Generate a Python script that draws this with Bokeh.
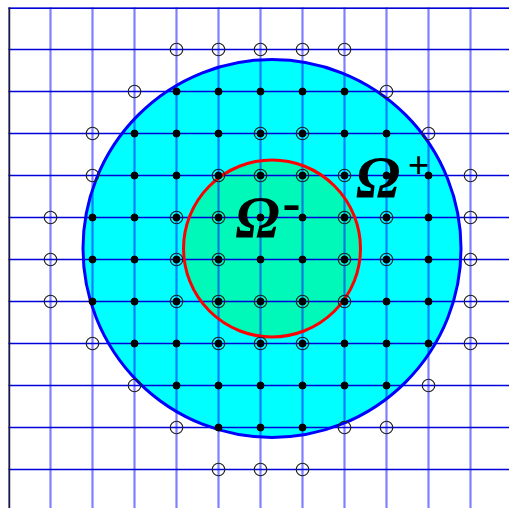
from bokeh.plotting import figure
from bokeh.models import Range1d
from bokeh.core.properties import value
from bokeh.embed import file_html
from bokeh.resources import INLINE

# ---- data (grid coordinates: x = column index, y = row index from bottom) ----
x_ticks = list(range(0, 13))
y_ticks = list(range(0, 12))

# outer domain (Omega+ boundary) and interface (Omega-)
outer_cx, outer_cy, outer_r = 6.274, 5.262, 4.5
inner_cx, inner_cy, inner_r = 6.274, 5.262, 2.107

# regular interior points, by row y -> columns
regular_rows = {
    9: [4, 5, 6, 7, 8],
    8: [3, 4, 5, 8, 9],
    7: [3, 4, 9, 10],
    6: [2, 3, 6, 7, 10],
    5: [2, 3, 6, 7, 10],
    4: [2, 3, 9, 10],
    3: [3, 4, 8, 9, 10],
    2: [4, 5, 6, 7, 8, 9],
    1: [5, 6, 7],
}
# irregular points next to the interface (dot + ring)
irregular_rows = {
    8: [6, 7],
    7: [5, 6, 7, 8],
    6: [4, 5, 8, 9],
    5: [4, 5, 8, 9],
    4: [4, 5, 6, 7, 8],
    3: [5, 6, 7],
}
# ghost points outside the domain (open rings)
ghost_rows = {
    10: [4, 5, 6, 7, 8],
    9: [3, 9],
    8: [2, 10],
    7: [2, 11],
    6: [1, 11],
    5: [1, 11],
    4: [1, 11],
    3: [2, 11],
    2: [3, 10],
    1: [4, 8, 9],
    0: [5, 6, 7],
}

region_labels = ["Ω", "Ω"]
region_signs = ["-", "+"]


def flatten(rows):
    xs, ys = [], []
    for y, cols in rows.items():
        for x in cols:
            xs.append(x)
            ys.append(y)
    return xs, ys


rx, ry = flatten(regular_rows)
ix, iy = flatten(irregular_rows)
gx, gy = flatten(ghost_rows)

# ---- figure ----
LEFT, TOP = 8, 7
W, H = 509, 508
PX = 42.0
FW, FH = W - LEFT, H - TOP
x0 = 0.0
x1 = FW / PX
ytop = 11.0
ybot = 11 - FH / PX

p = figure(width=W, height=H, output_backend="svg", toolbar_location=None,
           x_range=Range1d(x0, x1), y_range=Range1d(ybot, ytop),
           min_border=0, min_border_left=LEFT, min_border_right=0,
           min_border_top=TOP, min_border_bottom=0)
p.axis.visible = False
p.grid.visible = False
p.outline_line_color = None
p.background_fill_color = "white"
p.border_fill_color = "white"

# circle fills
p.circle(x=[outer_cx], y=[outer_cy], radius=outer_r, fill_color="#00ffff", line_color=None)
p.circle(x=[inner_cx], y=[inner_cy], radius=inner_r, fill_color="#00f8b8", line_color=None)

# grid lines
p.segment(x0=x_ticks, y0=[ybot - 1] * len(x_ticks), x1=x_ticks, y1=[ytop + 1] * len(x_ticks),
          line_color="#0000ff", line_alpha=0.5, line_width=2.2)
p.segment(x0=[-1] * len(y_ticks), y0=y_ticks, x1=[x1 + 1] * len(y_ticks), y1=y_ticks,
          line_color="#0000d8", line_width=1.5)
# top edge and left axis line
p.segment(x0=[-1], y0=[ytop - 0.015], x1=[x1 + 1], y1=[ytop - 0.015], line_color="#0000d8", line_width=1.5)
p.segment(x0=[0.015], y0=[ybot - 1], x1=[0.015], y1=[ytop + 1], line_color="#1a1a40", line_width=2.2)

# circle outlines
p.circle(x=[outer_cx], y=[outer_cy], radius=outer_r, fill_color=None, line_color="#0000ff", line_width=3)
p.circle(x=[inner_cx], y=[inner_cy], radius=inner_r, fill_color=None, line_color="#ff0000", line_width=3)

# points
p.scatter(x=rx + ix, y=ry + iy, marker="circle", size=7, fill_color="black", line_color="black")
p.scatter(x=ix + gx, y=iy + gy, marker="circle", size=12.5, fill_color=None, line_color="#222222", line_width=1.2)

# labels
p.text(x=[5.929, 8.798], y=[6.012, 6.964], text=region_labels, text_font=value("Liberation Serif"),
       text_font_style="bold italic", text_font_size="59px", text_align="center",
       text_baseline="middle", text_color="black")
p.text(x=[6.74], y=[6.238 + 0.1], text=region_signs[:1], text_font=value("Liberation Serif"),
       text_font_style="bold", text_font_size="54px", text_align="center", text_baseline="middle",
       text_color="black")
p.text(x=[9.762], y=[7.25], text=region_signs[1:], text_font=value("Liberation Serif"),
       text_font_style="bold", text_font_size="38px", text_align="center", text_baseline="middle",
       text_color="black")

open("out.html", "w").write(file_html(p, INLINE))
